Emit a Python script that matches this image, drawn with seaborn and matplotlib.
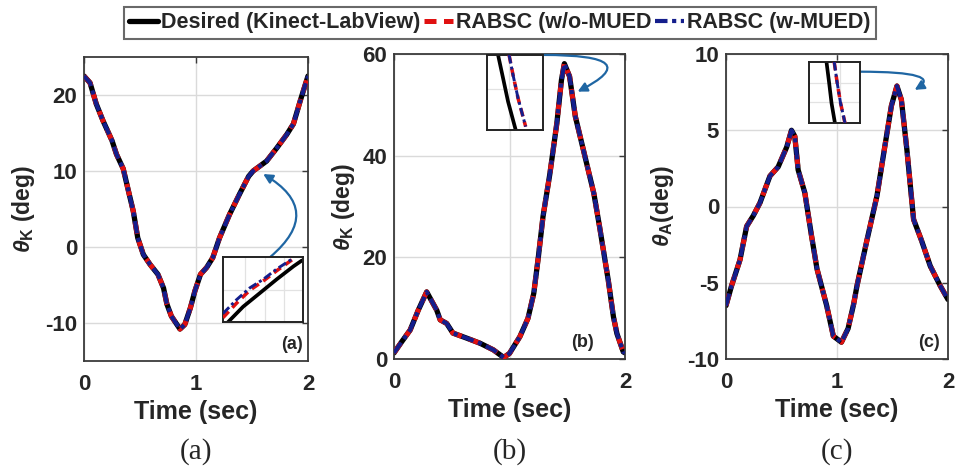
import matplotlib
matplotlib.use("Agg")
import matplotlib.pyplot as plt
import seaborn as sns

# ---------------------------------------------------------------
# Joint trajectories over one gait cycle (time in s, angle in deg)
# ---------------------------------------------------------------
time_a = [0.0, 0.054, 0.11, 0.17, 0.25, 0.29, 0.35, 0.39, 0.44, 0.48, 0.53,
          0.59, 0.66, 0.71, 0.74, 0.78, 0.857, 0.9, 0.95, 0.99, 1.04, 1.095,
          1.15, 1.21, 1.30, 1.39, 1.47, 1.51, 1.63, 1.72, 1.81, 1.87, 1.93, 2.0]
knee_a = [22.5, 21.6, 18.8, 16.6, 14.0, 12.2, 10.3, 7.8, 4.7, 1.2, -1.0,
          -2.3, -3.6, -5.4, -7.5, -9.1, -10.8, -10.2, -8.0, -5.8, -3.6, -2.7,
          -1.4, 1.2, 4.3, 7.0, 9.3, 10.0, 11.3, 13.0, 14.8, 16.2, 19.2, 22.5]

time_b = [0.0, 0.067, 0.14, 0.21, 0.283, 0.37, 0.40, 0.456, 0.51, 0.63, 0.745,
          0.86, 0.95, 1.0, 1.09, 1.16, 1.21, 1.25, 1.29, 1.35, 1.41, 1.45,
          1.475, 1.52, 1.57, 1.64, 1.73, 1.78, 1.855, 1.9, 1.93, 1.985, 2.0]
knee_b = [1.2, 3.4, 5.7, 9.6, 13.2, 9.6, 7.7, 7.0, 5.1, 4.1, 3.1,
          1.8, 0.3, 1.1, 4.4, 8.0, 12.9, 20.1, 28.0, 36.5, 46.4, 54.9,
          58.1, 55.6, 47.7, 41.1, 32.6, 26.0, 15.5, 8.3, 5.0, 1.4, 1.2]

time_c = [0.0, 0.05, 0.126, 0.186, 0.246, 0.306, 0.396, 0.47, 0.547, 0.59,
          0.62, 0.65, 0.71, 0.77, 0.82, 0.907, 0.967, 1.04, 1.10, 1.15, 1.18,
          1.27, 1.36, 1.43, 1.49, 1.54, 1.58, 1.63, 1.69, 1.76, 1.84, 1.93, 2.0]
ankle_c = [-6.5, -5.2, -3.5, -1.3, -0.6, 0.24, 2.0, 2.6, 3.9, 5.0,
           4.6, 2.4, 0.9, -1.9, -4.1, -6.5, -8.5, -8.9, -8.0, -6.4, -5.2,
           -2.2, 0.7, 3.9, 6.6, 7.9, 7.0, 3.7, -0.85, -2.2, -3.9, -5.2, -6.1]

# Magnified views (normalised zoom-window coordinates)
zoom_a_x_des = [0.063, 0.252, 0.462, 0.672, 0.882, 0.987]
zoom_a_y_des = [0.0, 0.237, 0.447, 0.658, 0.858, 0.947]
zoom_a_x_ctl = [0.0, 0.168, 0.336, 0.504, 0.672, 0.87]
zoom_a_y_wo = [0.068, 0.289, 0.49, 0.632, 0.79, 0.963]
zoom_a_y_w = [0.132, 0.342, 0.526, 0.658, 0.816, 0.974]

zoom_b_y = [1.0, 0.689, 0.378, 0.0]
zoom_b_x_des = [0.196, 0.286, 0.375, 0.512]
zoom_b_y_ctl = [1.0, 0.733, 0.422, 0.044]
zoom_b_x_ctl = [0.393, 0.464, 0.554, 0.69]

zoom_c_y = [1.0, 0.649, 0.324, 0.0]
zoom_c_x_des = [0.342, 0.395, 0.441, 0.507]
zoom_c_x_ctl = [0.493, 0.553, 0.618, 0.704]

series_names = ["Desired (Kinect-LabView)", "RABSC (w/o-MUED", "RABSC (w-MUED)"]
panel_tags = ["(a)", "(b)", "(c)"]
y_labels = [r"$\theta_{\mathbf{K}}$ (deg)", r"$\theta_{\mathbf{K}}$ (deg)",
            r"$\theta_{\mathbf{A}}$(deg)"]
y_ticks = [[-10, 0, 10, 20], [0, 20, 40, 60], [-10, -5, 0, 5, 10]]
y_limits = [(-15, 25), (0, 60), (-10, 10)]
x_ticks = [0, 1, 2]

# ---------------------------------------------------------------
sns.set_style("white")
plt.rcParams["font.family"] = ["Liberation Sans", "DejaVu Sans"]
plt.rcParams["font.weight"] = "bold"
plt.rcParams["mathtext.fontset"] = "custom"
plt.rcParams["mathtext.rm"] = "Liberation Sans:bold"
plt.rcParams["mathtext.it"] = "Liberation Sans:italic"
plt.rcParams["mathtext.bf"] = "Liberation Sans:bold"
plt.rcParams["axes.unicode_minus"] = False

BLACK = "#000000"
RED = "#e01010"
BLUE = "#141e8c"
ARROW = "#1f66a3"
styles = [
    dict(color=BLACK, linestyle="-", linewidth=3.8, zorder=2,
         solid_capstyle="round", solid_joinstyle="round"),
    dict(color=RED, linestyle=(0, (2.4, 1.5)), linewidth=3.6, zorder=3,
         dash_joinstyle="round"),
    dict(color=BLUE, linestyle=(0, (3.0, 1.1, 1.0, 1.1)), linewidth=3.0, zorder=4,
         dash_joinstyle="round"),
]

fig = plt.figure(figsize=(9.57, 4.66), dpi=100)
positions = [
    [84 / 957, 1 - 361 / 466, 224 / 957, 304 / 466],
    [394 / 957, 1 - 359 / 466, 231 / 957, 305 / 466],
    [726 / 957, 1 - 359 / 466, 222 / 957, 305 / 466],
]
axes = [fig.add_axes(p) for p in positions]
data = [(time_a, knee_a), (time_b, knee_b), (time_c, ankle_c)]
label_pads = [6, 4, 8]
tag_pos = [0.975, 0.865, 0.965]

for i, ax in enumerate(axes):
    t, v = data[i]
    # both controllers coincide with the reference at this scale
    for st in styles:
        sns.lineplot(x=t, y=v, ax=ax, sort=False, legend=False, **st)
    ax.set_xlim(0, 2)
    ax.set_ylim(*y_limits[i])
    ax.set_xticks(x_ticks)
    ax.set_yticks(y_ticks[i])
    ax.grid(True, color="#dadada", linewidth=1.0)
    ax.set_axisbelow(True)
    for sp in ax.spines.values():
        sp.set_color("#3a3a3a")
        sp.set_linewidth(1.3)
    ax.tick_params(direction="in", top=True, right=True, length=4, width=1,
                   color="#3a3a3a", labelsize=16)
    ax.tick_params(axis="x", pad=9)
    ax.tick_params(axis="y", pad=5)
    ax.set_xlabel("Time (sec)", fontsize=18, fontweight="bold", labelpad=4)
    ax.set_ylabel(y_labels[i], fontsize=16.5, fontweight="bold",
                  labelpad=label_pads[i])
    ax.text(tag_pos[i], 0.025, panel_tags[i], transform=ax.transAxes,
            ha="right", va="bottom", fontsize=13, fontweight="bold")
    cx = positions[i][0] + positions[i][2] / 2
    fig.text(cx, 1 - 452 / 466, panel_tags[i], ha="center", va="center",
             fontsize=21, fontweight="normal", family="Liberation Serif")


def zoom_box(ax, bounds, vgrid, hgrid):
    ins = ax.inset_axes(bounds)
    ins.set_xlim(0, 1)
    ins.set_ylim(0, 1)
    ins.set_xticks(vgrid)
    ins.set_yticks(hgrid)
    ins.tick_params(length=0, labelbottom=False, labelleft=False)
    ins.grid(True, color="#e2e2e2", linewidth=0.9)
    ins.set_facecolor("white")
    for sp in ins.spines.values():
        sp.set_color("#222222")
        sp.set_linewidth(1.4)
    return ins


thin = [dict(st, linewidth=st["linewidth"] * 0.7) for st in styles]

ins_a = zoom_box(axes[0], [0.6205, 0.128, 0.357, 0.214], [0.27, 0.52, 0.76], [0.5])
sns.lineplot(x=zoom_a_x_des, y=zoom_a_y_des, ax=ins_a, sort=False, legend=False, **thin[0])
sns.lineplot(x=zoom_a_x_ctl, y=zoom_a_y_wo, ax=ins_a, sort=False, legend=False, **thin[1])
sns.lineplot(x=zoom_a_x_ctl, y=zoom_a_y_w, ax=ins_a, sort=False, legend=False, **thin[2])

ins_b = zoom_box(axes[1], [0.403, 0.751, 0.242, 0.246], [0.4], [0.55])
sns.lineplot(x=zoom_b_x_des, y=zoom_b_y, ax=ins_b, sort=False, legend=False, **thin[0])
sns.lineplot(x=zoom_b_x_ctl, y=zoom_b_y_ctl, ax=ins_b, sort=False, legend=False, **thin[1])
sns.lineplot(x=zoom_b_x_ctl, y=zoom_b_y_ctl, ax=ins_b, sort=False, legend=False, **thin[2])

ins_c = zoom_box(axes[2], [0.374, 0.774, 0.23, 0.2], [0.6], [0.35, 0.65])
sns.lineplot(x=zoom_c_x_des, y=zoom_c_y, ax=ins_c, sort=False, legend=False, **thin[0])
sns.lineplot(x=zoom_c_x_ctl, y=zoom_c_y, ax=ins_c, sort=False, legend=False, **thin[1])
sns.lineplot(x=zoom_c_x_ctl, y=zoom_c_y, ax=ins_c, sort=False, legend=False, **thin[2])

# curved call-out arrows from each zoom window to the region it magnifies
arrow_kw = dict(arrowstyle="-|>,head_length=0.55,head_width=0.28", color=ARROW,
                lw=1.6, shrinkA=0, shrinkB=0)
axes[0].annotate("", xy=(1.6, 9.6), xycoords="data", xytext=(0.59, 1.0),
                 textcoords=ins_a.transAxes, annotation_clip=False,
                 arrowprops=dict(arrow_kw, connectionstyle="arc3,rad=0.7"))
axes[1].annotate("", xy=(1.59, 52.6), xycoords="data", xytext=(1.0, 1.0),
                 textcoords=ins_b.transAxes, annotation_clip=False,
                 arrowprops=dict(arrow_kw, connectionstyle="angle3,angleA=0,angleB=27"))
axes[2].annotate("", xy=(1.70, 7.65), xycoords="data", xytext=(1.0, 0.84),
                 textcoords=ins_c.transAxes, annotation_clip=False,
                 arrowprops=dict(arrow_kw, connectionstyle="angle3,angleA=0,angleB=31"))

handles = axes[0].get_lines()[:3]
leg = fig.legend(handles, series_names, loc="upper right",
                 bbox_to_anchor=(876 / 957, 1 - 7 / 466), ncol=3, frameon=True,
                 fancybox=False, edgecolor="#444444", handlelength=1.35,
                 handletextpad=0.15, columnspacing=0.15, borderpad=0.25,
                 borderaxespad=0, prop=dict(weight="bold", size=15.5))
leg.get_frame().set_linewidth(1.5)

fig.savefig("out.png", dpi=100)
